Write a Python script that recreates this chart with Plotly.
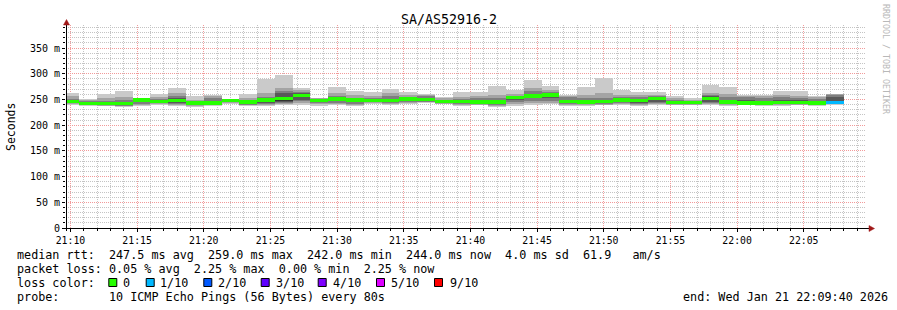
import plotly.graph_objects as go
import pandas as pd

# ---------------- data ----------------
bar_start = "2026-01-21 21:10:00"   # centre of first 80 s step
step_seconds = 80
x_start = "2026-01-21 21:09:40"
x_end = "2026-01-21 22:09:40"

median_ms = [246, 242.5, 242, 242, 249, 246, 247.5, 243, 243, 247.5,
             245, 249, 251.5, 258.5, 248, 251, 249, 248, 247.5, 251,
             249.5, 245.5, 246.5, 245, 245, 254, 257, 259, 245.5, 245,
             246.5, 249, 248.5, 251.5, 244, 244, 251.5, 245, 243.5, 243.5,
             244, 244, 243.5, 244]
loss_count = [0] * 43 + [1]

ping10 = [262, 251, 260.5, 267, 251, 260, 271.5, 257, 258.5, 251,
          260, 290, 297.5, 272, 253, 273.5, 266, 264, 270, 264,
          260.5, 254, 264, 264, 276, 268, 288, 276, 258.5, 273.5,
          291, 268, 264, 264, 256.5, 252, 278, 273.5, 258.5, 258.5,
          266, 266, 256.5, 260.5]
ping9 = [256, 249, 252, 255, 250.5, 254, 262, 250, 256, 250,
         253, 262, 272, 268, 252, 262, 258, 257, 262, 258,
         259, 252, 255, 256, 258, 260, 272, 268, 256, 258,
         262, 258, 258, 258, 252, 250, 262, 260, 256, 256,
         258, 257, 254, 260.5]
ping8 = [251, 247, 248, 250, 250, 251, 257, 247, 252, 249.5,
         250, 254, 267, 265, 251, 256, 253, 252, 257, 255,
         256, 250, 251, 252, 252, 257, 266, 264, 254, 252,
         253, 254, 254, 256, 249, 248, 258, 254, 254, 253,
         254, 253, 251, 258]
ping7 = [248, 245, 245, 246, 249.5, 249, 252, 245, 247, 249,
         248, 251, 262, 262, 250, 253, 251, 250, 251, 253,
         253, 248, 249, 249, 248, 256, 261, 262, 250, 248,
         250, 251, 251, 254, 247, 246, 256, 249, 250, 248,
         250, 249, 248, 254]
ping6 = [247, 243, 243, 243, 249.5, 247, 248.5, 244, 244, 248,
         246, 250, 255, 260, 249, 252, 250, 249, 248.5, 252,
         250.5, 246.5, 247.5, 246, 246, 255, 258, 260, 246.5, 246,
         247.5, 250, 249.5, 252.5, 245, 245, 252.5, 246, 244.5, 244.5,
         245, 245, 244.5, 246]
ping5 = [245, 242, 241, 241, 248.5, 245, 246.5, 242, 242, 247,
         244, 248, 248, 257, 247, 250, 248, 247, 246.5, 250,
         248.5, 244.5, 245.5, 244, 244, 253, 256, 258, 244.5, 244,
         245.5, 248, 247.5, 250.5, 243, 243, 250.5, 244, 242.5, 242.5,
         243, 243, 242.5, 244]
ping4 = [244, 241, 240, 240, 246, 244, 244, 241, 241, 246,
         242, 244, 246, 250, 245, 247, 245, 246, 245, 248,
         247, 244, 244, 243, 241, 249, 252, 252, 243, 243,
         244, 245, 244, 246, 242, 242, 246, 242, 242, 242,
         242, 242, 241, 243]
ping3 = [243, 240, 239, 238, 242, 243, 242, 240, 240, 245,
         240, 241, 244, 247, 243, 244, 242, 245, 243, 246,
         246, 243, 242, 242, 239, 245, 247, 248, 241, 241,
         242, 243, 241, 243, 241, 241, 243, 241, 241, 241,
         241, 241, 240, 242]
ping2 = [241, 239, 238, 237, 240, 241, 240, 238, 239, 243,
         239, 239, 242, 243, 241, 242, 240, 243, 241, 244,
         245, 242, 240, 240, 237, 242, 243, 244, 239, 240,
         240, 241, 239, 241, 240, 240, 241, 240, 240, 240,
         240, 240, 239, 241]
ping1 = [239, 237, 237, 235, 238, 239, 238, 236, 238, 241,
         238, 238, 240, 239, 238, 239, 238, 241, 239, 241,
         243, 241, 238, 239, 235, 238, 240, 241, 237, 238,
         239, 239, 237, 239, 239, 239, 239, 238, 239, 238,
         238, 239, 238, 240]

y_tick_values = [0, 50, 100, 150, 200, 250, 300, 350]
y_tick_labels = ["0", "50 m", "100 m", "150 m", "200 m", "250 m", "300 m", "350 m"]

loss_levels = ["0", "1/10", "2/10", "3/10", "4/10", "5/10", "9/10"]
loss_colors = ["#26ff00", "#00b8ff", "#0059ff", "#5e00ff", "#7e00ff", "#dd00ff", "#ff0000"]

title_text = "SA/AS52916-2"
rtt_line = "median rtt:  247.5 ms avg  259.0 ms max  242.0 ms min  244.0 ms now  4.0 ms sd  61.9   am/s"
loss_line = "packet loss: 0.05 % avg  2.25 % max  0.00 % min  2.25 % now"
probe_line = "probe:       10 ICMP Echo Pings (56 Bytes) every 80s"
end_line = "end: Wed Jan 21 22:09:40 2026"

# ---------------- layout geometry ----------------
W, H = 897, 310
L, R, T, B = 66, 31, 25, 82
PW, PH = W - L - R, H - T - B
BASE_Y = H - B


def px(x):
    return (x - L) / PW


def py(y):
    return (BASE_Y - y) / PH


def nb(s):
    return s.replace(" ", "\u00a0")


FONT = "DejaVu Sans Mono"
times = pd.date_range(bar_start, periods=len(median_ms), freq=f"{step_seconds}s")
bar_w = step_seconds * 1000
median_half = 3.2

fig = go.Figure()
bands = [(ping1, ping10, "#cacaca"), (ping2, ping9, "#a4a4a4"),
         (ping3, ping8, "#7e7e7e"), (ping4, ping7, "#585858"),
         (ping5, ping6, "#323232")]
for lo, hi, col in bands:
    fig.add_trace(go.Bar(
        x=times, base=lo, y=[h - l for l, h in zip(lo, hi)], width=bar_w,
        marker=dict(color=col, line=dict(width=0)), hoverinfo="skip",
        showlegend=False))

fig.add_trace(go.Bar(
    x=times, base=[m - median_half for m in median_ms],
    y=[2 * median_half] * len(median_ms), width=bar_w,
    marker=dict(color=[loss_colors[c] for c in loss_count], line=dict(width=0)),
    hoverinfo="skip", showlegend=False))

major_grid = "#f29a9a"
minor_grid = "#c4c4c4"

fig.update_layout(
    width=W, height=H, margin=dict(l=L, r=R, t=T, b=B),
    paper_bgcolor="white", plot_bgcolor="white",
    barmode="overlay", bargap=0,
    font=dict(family=FONT, size=10, color="black"),
    xaxis=dict(
        type="date", range=[x_start, x_end], tickformat="%H:%M",
        tick0="2026-01-21 21:10:00", dtick=300000,
        showgrid=True, gridcolor=major_grid, griddash="1px,1px", gridwidth=1,
        ticks="outside", ticklen=3, tickcolor="black",
        tickfont=dict(family=FONT, size=9.8, color="black"),
        showline=False, zeroline=False, fixedrange=True,
        minor=dict(dtick=60000, showgrid=True, gridcolor=minor_grid,
                   griddash="1px,1px", ticks="outside", ticklen=2, tickcolor="black"),
    ),
    yaxis=dict(
        range=[0, 395], tickvals=y_tick_values, ticktext=y_tick_labels,
        showgrid=True, gridcolor=major_grid, griddash="1px,1px", gridwidth=1,
        ticks="outside", ticklen=3, tickcolor="black",
        tickfont=dict(family=FONT, size=10, color="black"),
        showline=False, zeroline=False, fixedrange=True,
        minor=dict(dtick=10, showgrid=True, gridcolor=minor_grid,
                   griddash="1px,1px", ticks="outside", ticklen=2, tickcolor="black"),
    ),
)

shapes = [
    dict(type="line", xref="paper", yref="paper", x0=px(66.5), x1=px(66.5),
         y0=py(231), y1=py(23), line=dict(color="black", width=1)),
    dict(type="line", xref="paper", yref="paper", x0=px(63), x1=px(870),
         y0=py(228.5), y1=py(228.5), line=dict(color="black", width=1)),
    dict(type="path", xref="paper", yref="paper",
         path=f"M {px(66.5)},{py(19.5)} L {px(63.5)},{py(25)} L {px(69.5)},{py(25)} Z",
         fillcolor="#a01818", line=dict(color="#a01818", width=0.5)),
    dict(type="path", xref="paper", yref="paper",
         path=f"M {px(874.5)},{py(228.5)} L {px(869)},{py(225.5)} L {px(869)},{py(231.5)} Z",
         fillcolor="#a01818", line=dict(color="#a01818", width=0.5)),
]

annotations = [
    dict(text=title_text, x=px(448.5), y=py(19), xanchor="center", yanchor="middle",
         font=dict(family=FONT, size=13.3, color="black")),
    dict(text="Seconds", x=px(11), y=py(127), xanchor="center", yanchor="middle",
         textangle=-90, font=dict(family=FONT, size=11.5, color="black")),
    dict(text=nb("RRDTOOL / TOBI OETIKER"), x=px(886), y=py(59), xanchor="center",
         yanchor="middle", textangle=90, font=dict(family=FONT, size=8.3, color="#b8b8b8")),
    dict(text=nb(rtt_line), x=px(15), y=py(255), xanchor="left", yanchor="middle"),
    dict(text=nb(loss_line), x=px(15), y=py(268.5), xanchor="left", yanchor="middle"),
    dict(text=nb("loss color:"), x=px(15), y=py(282.5), xanchor="left", yanchor="middle"),
    dict(text=nb(probe_line), x=px(15), y=py(296.5), xanchor="left", yanchor="middle"),
    dict(text=nb(end_line), x=px(890), y=py(296.5), xanchor="right", yanchor="middle"),
]

square_left = [108.3, 145.7, 203.3, 260.7, 317.7, 376, 434]
label_left = [123.3, 160, 217.7, 275.7, 333.3, 390.7, 450]
for sx, lx, lab, col in zip(square_left, label_left, loss_levels, loss_colors):
    shapes.append(dict(type="rect", xref="paper", yref="paper",
                       x0=px(sx + 0.5), x1=px(sx + 8.5), y0=py(278.5), y1=py(286.5),
                       fillcolor=col, line=dict(color="black", width=1)))
    annotations.append(dict(text=lab, x=px(lx - 2), y=py(282.5), xanchor="left",
                            yanchor="middle"))

for a in annotations:
    a.setdefault("xref", "paper")
    a.setdefault("yref", "paper")
    a.setdefault("showarrow", False)
    a.setdefault("font", dict(family=FONT, size=11.75, color="black"))

fig.update_layout(shapes=shapes, annotations=annotations)
fig.write_html("out.html", config={"displayModeBar": False})
